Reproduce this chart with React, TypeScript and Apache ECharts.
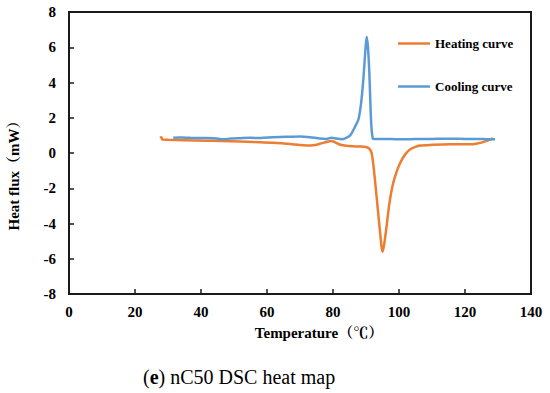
import React, { useEffect, useRef } from "react";
import * as echarts from "echarts";

const xTicks = [0, 20, 40, 60, 80, 100, 120, 140];
const yTicks = [-8, -6, -4, -2, 0, 2, 4, 6, 8];

const heatingTemp = [27.6, 28.0, 28.3, 30, 35, 41.7, 46, 51.8, 56, 61.8, 65, 67, 70, 72, 74, 76, 78, 79.4, 80.5, 82, 83.5, 86, 88.2, 90.2, 91.0, 91.7, 92.4, 93.4, 94.2, 94.7, 95.0, 95.4, 96.1, 97.1, 98.0, 98.8, 99.8, 100.8, 102, 103.3, 105, 106.4, 109.4, 115.5, 121.5, 124, 125.5, 127, 128.5];
const heatingFlux = [0.86, 0.9, 0.76, 0.75, 0.73, 0.7, 0.68, 0.65, 0.62, 0.58, 0.54, 0.51, 0.45, 0.43, 0.44, 0.52, 0.62, 0.68, 0.62, 0.48, 0.42, 0.38, 0.37, 0.33, 0.25, 0.0, -0.96, -2.85, -4.37, -5.3, -5.6, -5.3, -4.37, -2.85, -1.9, -1.34, -0.8, -0.4, -0.05, 0.2, 0.35, 0.42, 0.46, 0.5, 0.49, 0.55, 0.62, 0.72, 0.82];

const coolingTemp = [31.6, 34, 36.7, 40, 44, 46.8, 49, 51.8, 55, 58, 61.8, 66, 70, 73, 76, 78, 79.5, 81, 82.6, 84, 85.2, 86.7, 87.7, 88.5, 89.2, 89.8, 90.2, 90.6, 91.0, 91.3, 91.6, 92.0, 92.3, 95, 100, 105, 110, 115, 120, 125, 129.1];
const coolingFlux = [0.87, 0.88, 0.86, 0.85, 0.84, 0.78, 0.82, 0.84, 0.86, 0.85, 0.89, 0.92, 0.94, 0.9, 0.82, 0.8, 0.86, 0.82, 0.78, 0.86, 1.0, 1.5, 1.9, 2.8, 4.2, 5.8, 6.6, 6.0, 4.6, 3.0, 1.6, 0.85, 0.79, 0.8, 0.78, 0.79, 0.8, 0.81, 0.8, 0.79, 0.78];

const seriesNames = ["Heating curve", "Cooling curve"];
const xTitle = "Temperature（℃）";
const yTitle = "Heat flux（mW）";

const serif = "'Liberation Serif', 'Times New Roman', 'Noto Serif CJK SC', 'Noto Sans CJK SC', serif";
const axisColor = "#1a1a1a";

export default function App() {
  const ref = useRef<HTMLDivElement>(null);
  useEffect(() => {
    if (!ref.current) return;
    const chart = echarts.init(ref.current, undefined, { renderer: "svg" });
    const heating = heatingTemp.map((t, i) => [t, heatingFlux[i]]);
    const cooling = coolingTemp.map((t, i) => [t, coolingFlux[i]]);
    const xMin = xTicks[0];
    const xMax = xTicks[xTicks.length - 1];
    const yMin = yTicks[0];
    const yMax = yTicks[yTicks.length - 1];
    chart.setOption({
      animation: false,
      backgroundColor: "#fff",
      grid: {
        left: 69,
        top: 12,
        right: 19,
        bottom: 99,
        show: true,
        borderColor: axisColor,
        borderWidth: 2,
        backgroundColor: "rgba(0,0,0,0)",
      },
      legend: {
        orient: "vertical",
        left: 398,
        top: 37,
        padding: 0,
        itemWidth: 32,
        itemHeight: 14,
        itemGap: 30,
        data: seriesNames.map((n) => ({ name: n, icon: "path://M0,6 L32,6 L32,8.5 L0,8.5 Z" })),
        textStyle: { fontFamily: serif, fontWeight: "bold", fontSize: 13, color: "#000" },
      },
      xAxis: {
        type: "value",
        min: xMin,
        max: xMax,
        interval: 20,
        splitLine: { show: false },
        axisLine: { show: true, onZero: false, lineStyle: { color: axisColor, width: 2 } },
        axisTick: { show: true, inside: true, length: 5, lineStyle: { color: axisColor, width: 1.5 } },
        axisLabel: { fontFamily: serif, fontWeight: "bold", fontSize: 15, color: "#000", margin: 10 },
      },
      yAxis: {
        type: "value",
        min: yMin,
        max: yMax,
        interval: 2,
        splitLine: { show: false },
        axisLine: { show: true, onZero: false, lineStyle: { color: axisColor, width: 2 } },
        axisTick: { show: true, inside: true, length: 5, lineStyle: { color: axisColor, width: 1.5 } },
        axisLabel: { fontFamily: serif, fontWeight: "bold", fontSize: 15, color: "#000", margin: 13 },
      },
      graphic: [
        {
          type: "text",
          x: 319,
          y: 333,
          style: { text: xTitle, font: `bold 15px ${serif}`, fill: "#000", align: "center", verticalAlign: "middle" },
        },
        {
          type: "text",
          x: 14,
          y: 172,
          rotation: Math.PI / 2,
          style: { text: yTitle, font: `bold 15px ${serif}`, fill: "#000", align: "center", verticalAlign: "middle" },
        },
        {
          type: "text",
          x: 143,
          y: 377,
          style: {
            text: "{p|(}{b|e}{p|) nC50 DSC heat map}",
            rich: {
              p: { fontFamily: serif, fontSize: 20, color: "#000" },
              b: { fontFamily: serif, fontSize: 20, fontWeight: "bold", color: "#000" },
            },
            align: "left",
            verticalAlign: "middle",
          },
        },
      ],
      series: [
        {
          name: seriesNames[0],
          type: "line",
          data: heating,
          symbol: "none",
          smooth: 0.3,
          lineStyle: { color: "#ED7D31", width: 2.5 },
          itemStyle: { color: "#ED7D31" },
          z: 2,
        },
        {
          name: seriesNames[1],
          type: "line",
          data: cooling,
          symbol: "none",
          smooth: 0.3,
          lineStyle: { color: "#5B9BD5", width: 2.5 },
          itemStyle: { color: "#5B9BD5" },
          z: 3,
        },
      ],
    });
    return () => chart.dispose();
  }, []);
  return (
    <div
      ref={ref}
      style={{ position: "fixed", left: 0, top: 0, width: 550, height: 393, background: "#fff" }}
    />
  );
}
